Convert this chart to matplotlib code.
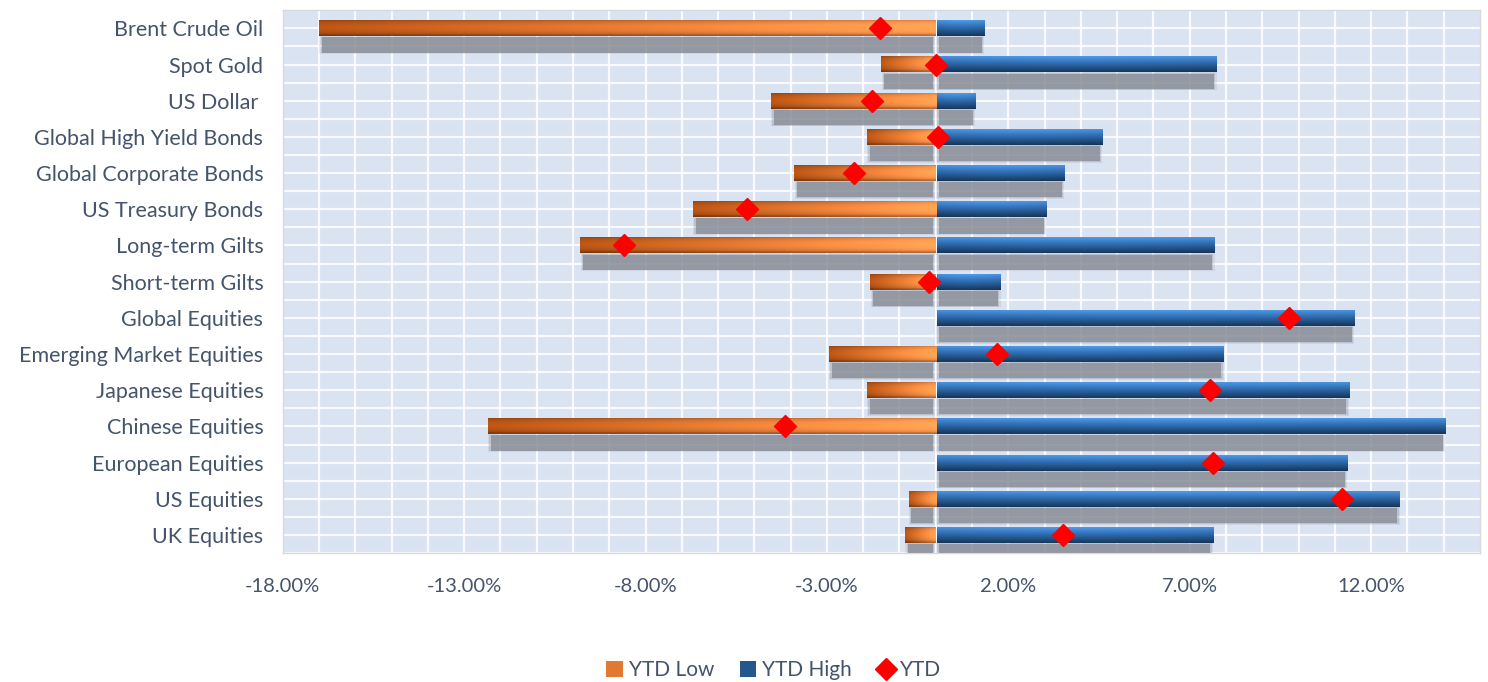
import numpy as np
import matplotlib
matplotlib.use("Agg")
import matplotlib.pyplot as plt
from matplotlib.patches import Patch, Rectangle
from matplotlib.lines import Line2D
from matplotlib.colors import to_rgb

# categories, top to bottom
categories = [
    "Brent Crude Oil", "Spot Gold", "US Dollar ", "Global High Yield Bonds",
    "Global Corporate Bonds", "US Treasury Bonds", "Long-term Gilts",
    "Short-term Gilts", "Global Equities", "Emerging Market Equities",
    "Japanese Equities", "Chinese Equities", "European Equities",
    "US Equities", "UK Equities",
]
ytd_low = [-17.0, -1.5, -4.55, -1.9, -3.9, -6.7, -9.8, -1.8, 0.0, -2.95,
           -1.9, -12.35, 0.0, -0.75, -0.85]
ytd_high = [1.35, 7.75, 1.1, 4.6, 3.55, 3.05, 7.7, 1.8, 11.55, 7.95,
            11.4, 14.05, 11.35, 12.8, 7.65]
ytd = [-1.55, 0.0, -1.75, 0.05, -2.25, -5.2, -8.6, -0.2, 9.75, 1.7,
       7.55, -4.15, 7.65, 11.2, 3.5]
xticks = [-18, -13, -8, -3, 2, 7, 12]

text_col = "#44546a"
bg_col = "#dae3f2"
bar_h = 0.44


def gradient_bar(ax, x0, x1, y, kind):
    if x1 - x0 <= 0:
        return
    ny, nx = 40, 200
    t = np.linspace(0, 1, nx)[None, :, None]
    v = np.linspace(0, 1, ny)[:, None, None]
    if kind == "low":
        dark = np.array(to_rgb("#a84c12"))
        light = np.array(to_rgb("#f8944c"))
        base = dark + (light - dark) * t
        # darker rim at top, lighter lower middle
        shade = 0.86 + 0.28 * np.sin(np.pi * np.clip(v * 1.1, 0, 1)) ** 0.6
        shade = shade - 0.12 * (v > 0.9)
        img = np.clip(base * shade, 0, 1)
    else:
        top = np.array(to_rgb("#4b92dc"))
        mid = np.array(to_rgb("#3270b5"))
        bot = np.array(to_rgb("#153558"))
        vv = v.repeat(nx, axis=1)
        img = np.where(vv < 0.35, top + (mid - top) * (vv / 0.35),
                       mid + (bot - mid) * ((vv - 0.35) / 0.65))
        img = img * (1 + 0.06 * np.sin(np.pi * t))
        img = np.clip(img, 0, 1)
    ax.imshow(img, extent=(x0, x1, y + bar_h / 2, y - bar_h / 2),
              aspect="auto", origin="upper", zorder=4, interpolation="bilinear")


def shadow(ax, x0, x1, y):
    if x1 - x0 <= 0:
        return
    yc = y + 0.46
    for grow, a in [(0.07, 0.15), (0.035, 0.25), (0.0, 0.75)]:
        ax.add_patch(Rectangle((x0 + 0.08 - grow, yc - 0.21 - grow * 0.6),
                               (x1 - x0) - 0.16 + 2 * grow, 0.42 + grow * 1.2,
                               facecolor="#868b94", edgecolor="none",
                               alpha=a, zorder=3))


fig = plt.figure(figsize=(14.88, 6.82), dpi=100)
ax = fig.add_axes([0.190, 0.189, 0.8046, 0.796])
ax.set_facecolor(bg_col)

ypos = np.arange(len(categories))
for i in ypos:
    shadow(ax, ytd_low[i], 0, i)
    shadow(ax, 0, ytd_high[i], i)
    gradient_bar(ax, ytd_low[i], 0, i, "low")
    gradient_bar(ax, 0.04, ytd_high[i], i, "high")

ax.plot(ytd, ypos, linestyle="none", marker="D", color="#ff0000",
        markersize=11, zorder=6)

ax.set_xlim(-18, 15)
ax.set_ylim(len(categories) - 0.5, -0.5)
ax.set_xticks(xticks)
ax.set_xticklabels([f"{v:.2f}%" for v in xticks])
ax.set_yticks(ypos)
ax.set_yticklabels(categories)
ax.grid(False)
for xv in np.arange(-17, 15, 1):
    ax.axvline(xv, color="white", lw=1.6, alpha=0.85, zorder=1)
for yv in np.arange(-0.5, len(categories), 0.5):
    ax.axhline(yv, color="white", lw=1.6, alpha=0.85, zorder=1)
ax.tick_params(axis="both", which="both", length=0, colors=text_col,
               labelsize=14.5)
ax.tick_params(axis="y", labelsize=15.5, pad=14)
ax.tick_params(axis="x", pad=18)
for lbl in ax.get_xticklabels() + ax.get_yticklabels():
    lbl.set_family("Lato")
for s in ax.spines.values():
    s.set_color("#d9d9d9")
    s.set_linewidth(1)

handles = [
    Patch(facecolor="#e07a32", edgecolor="none", label="YTD Low"),
    Patch(facecolor="#25578f", edgecolor="none", label="YTD High"),
    Line2D([], [], linestyle="none", marker="D", color="#ff0000",
           markersize=11, label="YTD"),
]
fig.legend(handles=handles, loc="lower center", bbox_to_anchor=(0.52, -0.025),
           ncol=3, frameon=False, handlelength=0.8, handleheight=0.8,
           handletextpad=0.3, columnspacing=1.2,
           prop={"family": "Lato", "size": 15}, labelcolor=text_col)

fig.savefig("out.png", dpi=100)
